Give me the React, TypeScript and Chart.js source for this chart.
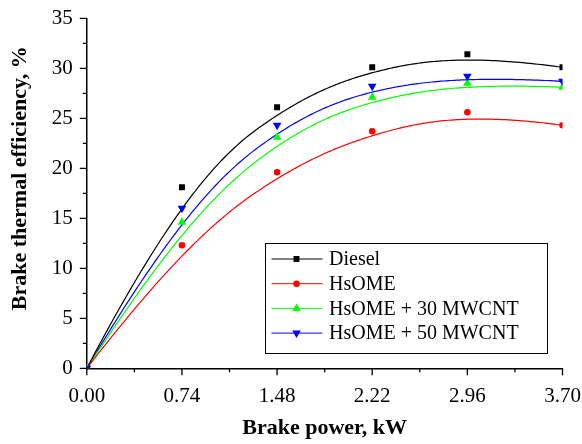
import React, { useEffect, useRef } from 'react';
import { Chart, registerables } from 'chart.js';

Chart.register(...registerables);

const FONT = '"Liberation Serif", "Times New Roman", serif';

const X_TICKS = [0, 0.74, 1.48, 2.22, 2.96, 3.7];
const Y_TICKS = [0, 5, 10, 15, 20, 25, 30, 35];

const POWER = [0, 0.74, 1.48, 2.22, 2.96, 3.7];
const DIESEL = [0, 18.1, 26.1, 30.1, 31.4, 30.1];
const HSOME = [0, 12.3, 19.6, 23.7, 25.6, 24.3];
const HSOME30 = [0, 14.6, 23.1, 27.1, 28.5, 28.1];
const HSOME50 = [0, 16.0, 24.3, 28.2, 29.2, 28.7];

const X_TITLE = 'Brake power, kW';
const Y_TITLE = 'Brake thermal efficiency, %';

const SERIES_NAMES = ['Diesel', 'HsOME', 'HsOME + 30 MWCNT', 'HsOME + 50 MWCNT'];
const SERIES_VALUES = [DIESEL, HSOME, HSOME30, HSOME50];
const COLORS = ['#000000', '#ff0000', '#00ff00', '#0000ff'];
const POINT_STYLES = ['rect', 'circle', 'triangle', 'triangle'];
const POINT_ROTATIONS = [0, 0, 0, 180];
const POINT_RADII = [4.2, 3.3, 5, 5];

// Clamped cubic B-spline (as the "B-Spline" line connection of the original plot),
// using the measured points as control points.
function bSplineCurve(xs: number[], ys: number[], samples = 200) {
  const p = 3;
  const n = xs.length;
  const m = n - p;
  const knots: number[] = [];
  for (let i = 0; i <= p; i++) knots.push(0);
  for (let i = 1; i < m; i++) knots.push(i);
  for (let i = 0; i <= p; i++) knots.push(m);
  const out: { x: number; y: number }[] = [];
  for (let s = 0; s <= samples; s++) {
    const t = (m * s) / samples;
    let k = p;
    while (k < n - 1 && t >= knots[k + 1]) k++;
    const dx: number[] = [];
    const dy: number[] = [];
    for (let j = 0; j <= p; j++) {
      dx.push(xs[j + k - p]);
      dy.push(ys[j + k - p]);
    }
    for (let r = 1; r <= p; r++) {
      for (let j = p; j >= r; j--) {
        const i = j + k - p;
        const den = knots[i + p - r + 1] - knots[i];
        const a = den === 0 ? 0 : (t - knots[i]) / den;
        dx[j] = (1 - a) * dx[j - 1] + a * dx[j];
        dy[j] = (1 - a) * dy[j - 1] + a * dy[j];
      }
    }
    out.push({ x: dx[p], y: dy[p] });
  }
  return out;
}

function drawMarker(ctx: CanvasRenderingContext2D, style: string, rot: number, x: number, y: number, r: number) {
  ctx.save();
  ctx.translate(x, y);
  ctx.rotate((rot * Math.PI) / 180);
  ctx.beginPath();
  if (style === 'rect') {
    const s = Math.SQRT1_2 * r;
    ctx.rect(-s, -s, 2 * s, 2 * s);
  } else if (style === 'circle') {
    ctx.arc(0, 0, r, 0, Math.PI * 2);
  } else {
    ctx.moveTo(0, -r);
    ctx.lineTo(-Math.sin(Math.PI / 3) * r, r / 2);
    ctx.lineTo(Math.sin(Math.PI / 3) * r, r / 2);
    ctx.closePath();
  }
  ctx.fill();
  ctx.restore();
}

const axisDecorPlugin = {
  id: 'axisDecor',
  afterDraw(chart: any) {
    const ctx = chart.ctx as CanvasRenderingContext2D;
    const xs = chart.scales.x;
    const ys = chart.scales.y;
    const area = chart.chartArea;
    ctx.save();
    ctx.strokeStyle = '#000';
    ctx.lineWidth = 1.3;
    ctx.beginPath();
    X_TICKS.forEach((v, i) => {
      const px = xs.getPixelForValue(v);
      ctx.moveTo(px, area.bottom);
      ctx.lineTo(px, area.bottom + 7);
      if (i < X_TICKS.length - 1) {
        const mx = xs.getPixelForValue((v + X_TICKS[i + 1]) / 2);
        ctx.moveTo(mx, area.bottom);
        ctx.lineTo(mx, area.bottom + 4);
      }
    });
    Y_TICKS.forEach((v, i) => {
      const py = ys.getPixelForValue(v);
      ctx.moveTo(area.left, py);
      ctx.lineTo(area.left - 7, py);
      if (i < Y_TICKS.length - 1) {
        const my = ys.getPixelForValue((v + Y_TICKS[i + 1]) / 2);
        ctx.moveTo(area.left, my);
        ctx.lineTo(area.left - 4, my);
      }
    });
    ctx.stroke();

    ctx.fillStyle = '#000';
    ctx.font = 'bold 22px ' + FONT;
    ctx.textAlign = 'center';
    ctx.textBaseline = 'middle';
    ctx.translate(20, area.top + (area.bottom - area.top) * 0.457);
    ctx.rotate(-Math.PI / 2);
    ctx.fillText(Y_TITLE, 0, 0);
    ctx.restore();
  },
};

const legendBoxPlugin = {
  id: 'legendBox',
  afterDraw(chart: any) {
    const ctx = chart.ctx as CanvasRenderingContext2D;
    const left = 265.5;
    const top = 243.5;
    const width = 282;
    const height = 110;
    const rowY0 = 259;
    const rowGap = 24.7;
    ctx.save();
    ctx.strokeStyle = '#000';
    ctx.lineWidth = 1;
    ctx.strokeRect(left, top, width, height);
    ctx.font = '20px ' + FONT;
    ctx.textBaseline = 'middle';
    ctx.textAlign = 'left';
    SERIES_NAMES.forEach((name, i) => {
      const y = rowY0 + i * rowGap;
      ctx.strokeStyle = COLORS[i];
      ctx.lineWidth = 1;
      ctx.beginPath();
      ctx.moveTo(left + 6, y);
      ctx.lineTo(left + 57, y);
      ctx.stroke();
      ctx.fillStyle = COLORS[i];
      drawMarker(ctx, POINT_STYLES[i], POINT_ROTATIONS[i], left + 31, y, POINT_RADII[i]);
      ctx.fillStyle = '#000';
      ctx.fillText(name, left + 63.5, y + 1);
    });
    ctx.restore();
  },
};

export default function App() {
  const canvasRef = useRef<HTMLCanvasElement | null>(null);

  useEffect(() => {
    document.body.style.margin = '0';
    const canvas = canvasRef.current;
    if (!canvas) return;

    const datasets: any[] = [];
    SERIES_VALUES.forEach((vals, i) => {
      datasets.push({
        type: 'line',
        label: SERIES_NAMES[i] + ' curve',
        data: bSplineCurve(POWER, vals),
        borderColor: COLORS[i],
        backgroundColor: COLORS[i],
        borderWidth: 1.2,
        pointRadius: 0,
        fill: false,
        tension: 0,
        order: 10,
      });
    });
    SERIES_VALUES.forEach((vals, i) => {
      datasets.push({
        type: 'scatter',
        label: SERIES_NAMES[i],
        data: POWER.map((x, k) => ({ x, y: vals[k] })),
        showLine: false,
        pointStyle: POINT_STYLES[i],
        rotation: POINT_ROTATIONS[i],
        pointRadius: POINT_RADII[i],
        borderWidth: 0,
        backgroundColor: COLORS[i],
        borderColor: COLORS[i],
        order: -i,
      });
    });

    const chart = new Chart(canvas, {
      type: 'scatter',
      data: { datasets },
      options: {
        animation: false,
        responsive: false,
        maintainAspectRatio: false,
        layout: { padding: { left: 0, right: 19.5, top: 18.3, bottom: 2 } },
        plugins: {
          legend: { display: false },
          tooltip: { enabled: false },
        },
        scales: {
          x: {
            type: 'linear',
            min: 0,
            max: 3.7,
            afterBuildTicks: (scale: any) => {
              scale.ticks = X_TICKS.map((v) => ({ value: v }));
            },
            afterFit: (scale: any) => {
              scale.height = 73.7;
              scale.paddingLeft = 0;
              scale.paddingRight = 0;
            },
            ticks: {
              color: '#000',
              font: { family: FONT, size: 21 },
              padding: 16,
              maxRotation: 0,
              autoSkip: false,
              callback: (v: any) => Number(v).toFixed(2),
            },
            grid: { display: false, drawTicks: false },
            border: { display: true, color: '#000', width: 1.5 },
            title: {
              display: true,
              text: X_TITLE,
              color: '#000',
              font: { family: FONT, size: 22, weight: 'bold' },
              padding: 0,
            },
          },
          y: {
            type: 'linear',
            min: 0,
            max: 35,
            afterBuildTicks: (scale: any) => {
              scale.ticks = Y_TICKS.map((v) => ({ value: v }));
            },
            afterFit: (scale: any) => {
              scale.width = 86.8;
              scale.paddingTop = 0;
              scale.paddingBottom = 0;
            },
            ticks: {
              color: '#000',
              font: { family: FONT, size: 21 },
              padding: 14,
              autoSkip: false,
              callback: (v: any) => String(v),
            },
            grid: { display: false, drawTicks: false },
            border: { display: true, color: '#000', width: 1.5 },
            title: { display: false },
          },
        },
      },
      plugins: [axisDecorPlugin, legendBoxPlugin],
    } as any);

    return () => chart.destroy();
  }, []);

  return (
    <div style={{ width: 582, height: 444 }}>
      <canvas ref={canvasRef} width={582} height={444} style={{ display: 'block' }} />
    </div>
  );
}
